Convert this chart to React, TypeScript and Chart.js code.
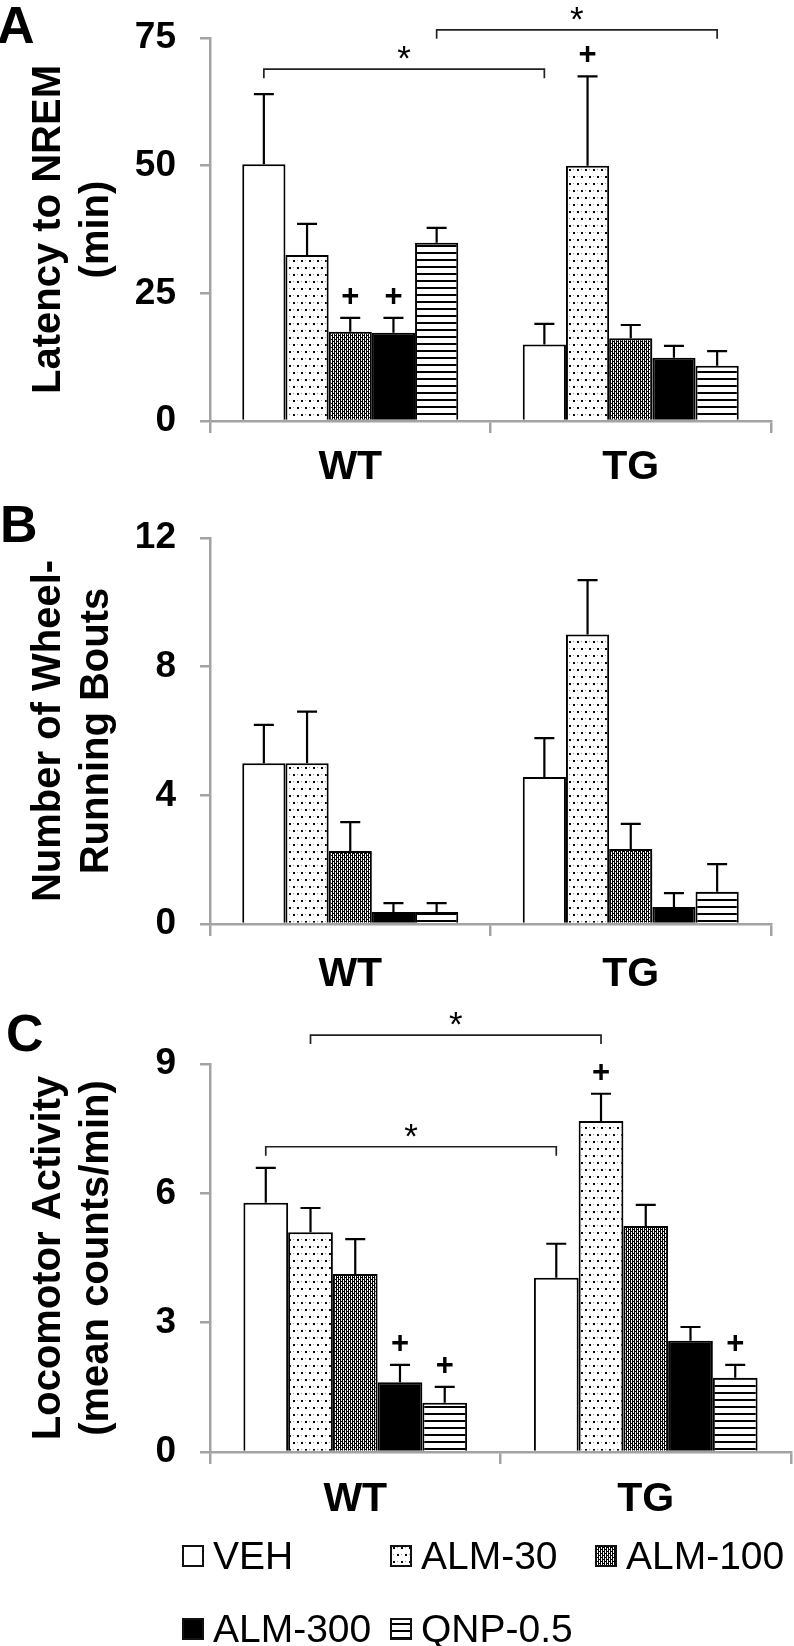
import React, { useEffect, useRef } from 'react';
import { Chart, registerables } from 'chart.js';

Chart.register(...registerables);

const FONT = '"Liberation Sans", Arial, Helvetica, sans-serif';
const AXIS = '#a3a3a3';

// ---------- data ----------
const groups = ['WT', 'TG'];
const treatments = ['VEH', 'ALM-30', 'ALM-100', 'ALM-300', 'QNP-0.5'];

// Panel A: latency to NREM (min)
const latencyTicks = [0, 25, 50, 75];
const latencyWT = [50.3, 32.5, 17.5, 17.3, 34.9];
const latencyWTsem = [13.7, 6.1, 2.7, 2.9, 2.9];
const latencyTG = [15.0, 50.0, 16.2, 12.4, 10.8];
const latencyTGsem = [4.0, 17.5, 2.6, 2.3, 2.9];
const latencyPlus = [[2, 0], [3, 0], [1, 1]]; // [treatment, group]
const latencyBrackets = [
  { from: [0, 0], to: [0, 1], level: 68.9 },
  { from: [4, 0], to: [4, 1], level: 76.6 },
];

// Panel B: wheel-running bouts
const boutsTicks = [0, 4, 8, 12];
const boutsWT = [5.0, 5.0, 2.27, 0.37, 0.37];
const boutsWTsem = [1.19, 1.6, 0.9, 0.28, 0.28];
const boutsTG = [4.57, 9.0, 2.33, 0.53, 1.0];
const boutsTGsem = [1.21, 1.69, 0.78, 0.43, 0.86];

// Panel C: locomotor activity
const locoTicks = [0, 3, 6, 9];
const locoWT = [5.78, 5.1, 4.13, 1.62, 1.14];
const locoWTsem = [0.81, 0.56, 0.81, 0.40, 0.37];
const locoTG = [4.04, 7.68, 5.24, 2.58, 1.72];
const locoTGsem = [0.79, 0.63, 0.49, 0.32, 0.30];
const locoPlus = [[3, 0], [4, 0], [1, 1], [4, 1]];
const locoBrackets = [
  { from: [0, 0], to: [0, 1], level: 7.08 },
  { from: [1, 0], to: [1, 1], level: 9.67 },
];

// ---------- patterns ----------
function makePatterns(): (CanvasPattern | string)[] {
  const mk = (w: number, h: number, draw: (g: CanvasRenderingContext2D) => void) => {
    const c = document.createElement('canvas');
    c.width = w;
    c.height = h;
    const g = c.getContext('2d')!;
    g.fillStyle = '#fff';
    g.fillRect(0, 0, w, h);
    draw(g);
    return g.createPattern(c, 'repeat') as CanvasPattern;
  };
  const sparse = mk(8, 14, (g) => {
    g.fillStyle = '#000';
    g.fillRect(1, 1, 2, 2);
    g.fillRect(5, 8, 2, 2);
    g.fillStyle = '#9a9a9a';
    g.fillRect(5, 1, 1, 1);
    g.fillRect(1, 8, 1, 1);
  });
  const dense = mk(4, 4, (g) => {
    g.fillStyle = '#000';
    g.fillRect(0, 0, 1, 4);
    g.fillRect(2, 0, 1, 4);
    g.fillRect(1, 1, 1, 1);
    g.fillRect(3, 3, 1, 1);
  });
  const stripes = mk(4, 7, (g) => {
    g.fillStyle = '#000';
    g.fillRect(0, 0, 4, 2);
  });
  return ['#ffffff', sparse, dense, '#000000', stripes];
}

// ---------- panel configs ----------
type PanelCfg = {
  letter: string;
  letterX: number;
  letterY: number;
  top: number;
  height: number;
  chartTop: number;
  chartBottom: number;
  right: number;
  xPad: number;
  ticks: number[];
  title: string[];
  wt: number[];
  wtSem: number[];
  tg: number[];
  tgSem: number[];
  plus: number[][];
  brackets: { from: number[]; to: number[]; level: number }[];
  legend: boolean;
};

const panels: PanelCfg[] = [
  {
    letter: 'A', letterX: -3, letterY: 43, top: 0, height: 500, chartTop: 38, chartBottom: 421, right: 23, xPad: 10,
    ticks: latencyTicks, title: ['Latency to NREM', '(min)'],
    wt: latencyWT, wtSem: latencyWTsem, tg: latencyTG, tgSem: latencyTGsem,
    plus: latencyPlus, brackets: latencyBrackets, legend: false,
  },
  {
    letter: 'B', letterX: 0, letterY: 42, top: 500, height: 500, chartTop: 38, chartBottom: 424, right: 23, xPad: 14,
    ticks: boutsTicks, title: ['Number of Wheel-', 'Running Bouts'],
    wt: boutsWT, wtSem: boutsWTsem, tg: boutsTG, tgSem: boutsTGsem,
    plus: [], brackets: [], legend: false,
  },
  {
    letter: 'C', letterX: 6, letterY: 51, top: 1000, height: 646, chartTop: 64, chartBottom: 452, right: 3, xPad: 11,
    ticks: locoTicks, title: ['Locomotor Activity', '(mean counts/min)'],
    wt: locoWT, wtSem: locoWTsem, tg: locoTG, tgSem: locoTGsem,
    plus: locoPlus, brackets: locoBrackets, legend: true,
  },
];

// legend layout (box x, row)
const legendSlots = [
  { x: 182, row: 0 },
  { x: 390, row: 0 },
  { x: 595, row: 0 },
  { x: 182, row: 1 },
  { x: 390, row: 1 },
];
const legendRowY = [1545, 1618];

function annotPlugin(cfg: PanelCfg, patterns: (CanvasPattern | string)[]) {
  return {
    id: 'annot' + cfg.letter,
    afterDatasetsDraw(chart: any) {
      const ctx: CanvasRenderingContext2D = chart.ctx;
      const ys = chart.scales.y;
      const barAt = (t: number, g: number) => chart.getDatasetMeta(t).data[g] as any;
      const means = [cfg.wt, cfg.tg];
      const sems = [cfg.wtSem, cfg.tgSem];
      ctx.save();
      // error bars (upper only)
      ctx.strokeStyle = '#000';
      ctx.lineWidth = 2.2;
      for (let g = 0; g < 2; g++) {
        for (let t = 0; t < treatments.length; t++) {
          const bar = barAt(t, g);
          const topPx = ys.getPixelForValue(means[g][t] + sems[g][t]);
          ctx.beginPath();
          ctx.moveTo(bar.x, bar.y);
          ctx.lineTo(bar.x, topPx);
          ctx.moveTo(bar.x - 10, topPx);
          ctx.lineTo(bar.x + 10, topPx);
          ctx.stroke();
        }
      }
      // plus signs
      ctx.fillStyle = '#000';
      ctx.font = `bold 31px ${FONT}`;
      ctx.textAlign = 'center';
      ctx.textBaseline = 'alphabetic';
      cfg.plus.forEach(([t, g]) => {
        const bar = barAt(t, g);
        const topPx = ys.getPixelForValue(means[g][t] + sems[g][t]);
        ctx.fillText('+', bar.x, topPx - 22 + 10);
      });
      // brackets
      cfg.brackets.forEach((b) => {
        const x1 = barAt(b.from[0], b.from[1]).x;
        const x2 = barAt(b.to[0], b.to[1]).x;
        const yb = ys.getPixelForValue(b.level);
        ctx.strokeStyle = '#222';
        ctx.lineWidth = 1.7;
        ctx.beginPath();
        ctx.moveTo(x1, yb + 9);
        ctx.lineTo(x1, yb);
        ctx.lineTo(x2, yb);
        ctx.lineTo(x2, yb + 9);
        ctx.stroke();
        ctx.font = `35px ${FONT}`;
        ctx.fillText('*', (x1 + x2) / 2, yb - 19 + 20);
      });
      ctx.restore();
    },
    afterDraw(chart: any) {
      const ctx: CanvasRenderingContext2D = chart.ctx;
      ctx.save();
      ctx.fillStyle = '#000';
      ctx.font = `bold 52px ${FONT}`;
      ctx.textAlign = 'left';
      ctx.textBaseline = 'alphabetic';
      ctx.fillText(cfg.letter, cfg.letterX, cfg.letterY);
      if (cfg.legend) {
        treatments.forEach((name, i) => {
          const slot = legendSlots[i];
          const bx = slot.x;
          const by = legendRowY[slot.row] - cfg.top;
          ctx.fillStyle = patterns[i] as any;
          ctx.fillRect(bx, by, 22, 22);
          ctx.strokeStyle = '#111';
          ctx.lineWidth = 2;
          ctx.strokeRect(bx + 1, by + 1, 20, 20);
          ctx.fillStyle = '#000';
          ctx.font = `39px ${FONT}`;
          ctx.textAlign = 'left';
          ctx.textBaseline = 'alphabetic';
          ctx.fillText(name, bx + 31, by + 24);
        });
      }
      ctx.restore();
    },
  };
}

function buildConfig(cfg: PanelCfg, patterns: (CanvasPattern | string)[]): any {
  const datasets = treatments.map((name, i) => ({
    label: name,
    data: [cfg.wt[i], cfg.tg[i]],
    backgroundColor: patterns[i],
    borderColor: '#000',
    borderWidth: 2,
    categoryPercentage: 0.77,
    barPercentage: 1.0,
  }));
  const tk = cfg.ticks;
  return {
    type: 'bar',
    data: { labels: groups, datasets },
    options: {
      responsive: false,
      animation: false,
      devicePixelRatio: 1,
      layout: { padding: { top: cfg.chartTop, right: cfg.right, left: 0, bottom: 0 } },
      plugins: { legend: { display: false }, tooltip: { enabled: false } },
      scales: {
        x: {
          type: 'category',
          offset: true,
          grid: { display: true, offset: true, drawOnChartArea: false, drawTicks: true, tickLength: 12, color: AXIS, lineWidth: 2.5 },
          border: { display: true, color: AXIS, width: 2.5 },
          ticks: { color: '#000', font: { family: FONT, size: 41, weight: 'bold' }, padding: cfg.xPad, maxRotation: 0, autoSkip: false },
          afterFit: (s: any) => {
            s.height = cfg.height - cfg.chartBottom;
            s.paddingLeft = 0;
            s.paddingRight = 0;
          },
        },
        y: {
          min: tk[0],
          max: tk[tk.length - 1],
          ticks: { stepSize: tk[1] - tk[0], color: '#000', font: { family: FONT, size: 37, weight: 'bold' }, padding: 24 },
          grid: { display: true, drawOnChartArea: false, drawTicks: true, tickLength: 10, color: AXIS, lineWidth: 2.5 },
          border: { display: true, color: AXIS, width: 2.5 },
          title: { display: true, text: cfg.title, color: '#000', font: { family: FONT, size: 40, weight: 'bold', lineHeight: 1.2 }, padding: { top: 25, bottom: 0 } },
          afterFit: (s: any) => {
            s.width = 210;
            s.paddingTop = 0;
            s.paddingBottom = 0;
          },
        },
      },
    },
    plugins: [annotPlugin(cfg, patterns)],
  };
}

function Panel({ cfg }: { cfg: PanelCfg }) {
  const ref = useRef<HTMLCanvasElement>(null);
  useEffect(() => {
    const patterns = makePatterns();
    const chart = new Chart(ref.current!, buildConfig(cfg, patterns));
    return () => chart.destroy();
  }, [cfg]);
  return (
    <canvas
      ref={ref}
      width={794}
      height={cfg.height}
      style={{ position: 'absolute', left: 0, top: cfg.top, width: 794, height: cfg.height }}
    />
  );
}

export default function App() {
  return (
    <div style={{ position: 'absolute', left: 0, top: 0, width: 794, height: 1646, background: '#fff', overflow: 'hidden' }}>
      {panels.map((p) => (
        <Panel key={p.letter} cfg={p} />
      ))}
    </div>
  );
}
